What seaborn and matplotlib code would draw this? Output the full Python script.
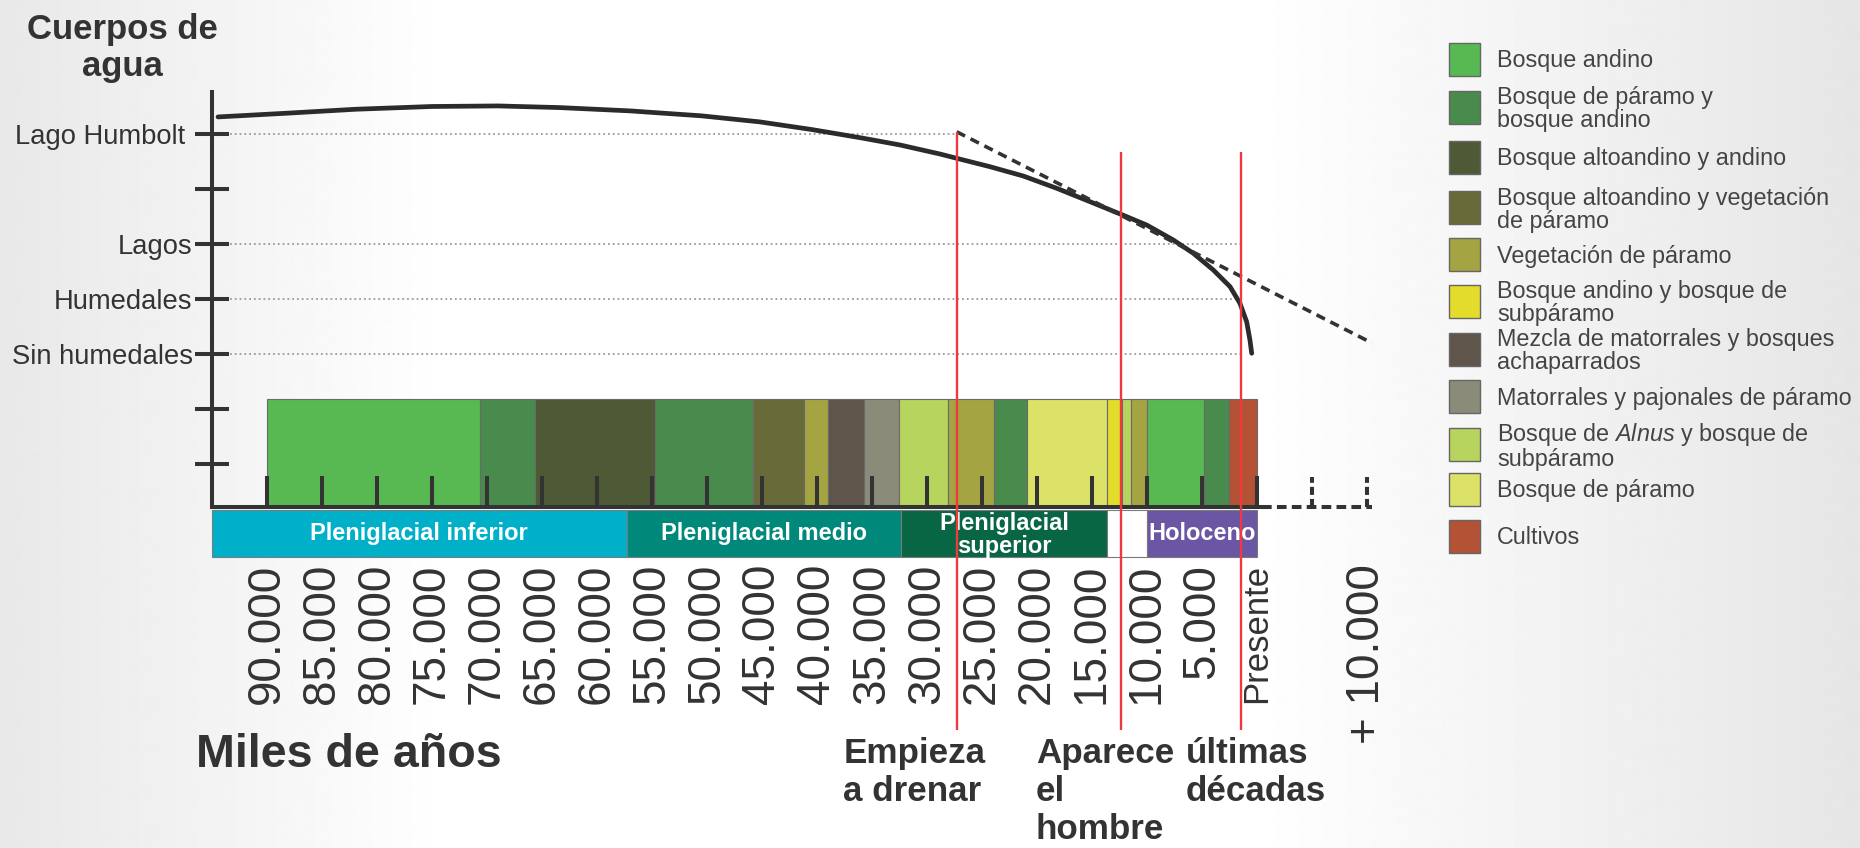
import numpy as np
import matplotlib
matplotlib.use("Agg")
import matplotlib.pyplot as plt
from matplotlib.patches import Rectangle
from matplotlib import font_manager
import seaborn as sns
import pandas as pd

# ---------------- data ----------------
level_ticks = [5, 4, 3, 2, 1, 0, -1]
level_labels = ["Lago Humbolt ", "", "Lagos", "Humedales", "Sin humedales", "", ""]

# water-body curve (age in thousand years BP, level)
curve_age = [94.45, 88.0, 81.9, 75.0, 69.0, 63.4, 57.0, 50.5, 45.2, 40.45, 36.0, 32.45,
             28.82, 27.30, 24.27, 21.25, 18.21, 15.18, 12.21, 10.03, 7.61, 5.79, 3.97,
             2.45, 1.55, 0.94, 0.64, 0.48]
curve_level = [5.31, 5.38, 5.45, 5.50, 5.51, 5.48, 5.42, 5.33, 5.22, 5.08, 4.93, 4.80,
               4.636, 4.558, 4.405, 4.236, 4.013, 3.769, 3.527, 3.345, 3.073, 2.831, 2.527,
               2.224, 1.922, 1.587, 1.255, 1.013]

# projected drainage (dashed)
proj_age = [27.3, -10.45]
proj_level = [5.04, 1.2]

veg_categories = [
    "Bosque andino",
    "Bosque de páramo y\nbosque andino",
    "Bosque altoandino y andino",
    "Bosque altoandino y vegetación\nde páramo",
    "Vegetación de páramo",
    "Bosque andino y bosque de\nsubpáramo",
    "Mezcla de matorrales y bosques\nachaparrados",
    "Matorrales y pajonales de páramo",
    "Bosque de $\\mathit{Alnus}$ y bosque de\nsubpáramo",
    "Bosque de páramo",
    "Cultivos",
]
veg_colors = ["#58B952", "#498B4D", "#4E5A36", "#696A39", "#A5A443", "#E4DC2C",
              "#5F554B", "#8A8B79", "#B6D45E", "#DBE267", "#B35234"]

seg_start = [90, 70.6, 65.6, 54.7, 45.8, 41.2, 39.0, 35.7, 32.5, 28.1, 23.9, 20.9,
             13.6, 12.3, 11.45, 10.0, 4.8, 2.5]
seg_end = [70.6, 65.6, 54.7, 45.8, 41.2, 39.0, 35.7, 32.5, 28.1, 23.9, 20.9, 13.6,
           12.3, 11.45, 10.0, 4.8, 2.5, 0.0]
seg_cat = [0, 1, 2, 1, 3, 4, 6, 7, 8, 4, 1, 9, 5, 8, 4, 0, 1, 10]

period_names = ["Pleniglacial inferior", "Pleniglacial medio", "Pleniglacial\nsuperior", "", "Holoceno"]
period_start = [95.0, 57.3, 32.4, 13.6, 10.0]
period_end = [57.3, 32.4, 13.6, 10.0, 0.0]
period_colors = ["#00B0C8", "#00897B", "#086645", "#FFFFFF", "#6B56A4"]

xtick_pos = [90, 85, 80, 75, 70, 65, 60, 55, 50, 45, 40, 35, 30, 25, 20, 15, 10, 5, 0, -10]
xtick_labels = ["90.000", "85.000", "80.000", "75.000", "70.000", "65.000", "60.000",
                "55.000", "50.000", "45.000", "40.000", "35.000", "30.000", "25.000",
                "20.000", "15.000", "10.000", "5.000", "Presente", "+ 10.000"]
future_ticks = [-5, -10]

event_age = [27.3, 12.36, 1.45]
event_top = [5.04, 4.67, 4.67]
event_labels = ["Empieza\na drenar", "Aparece\nel\nhombre", "últimas\ndécadas"]
event_text_x = [37.6, 20.1, 6.45]

# ---------------- style ----------------
sns.set_theme(style="white")
plt.rcParams["font.family"] = ["Liberation Sans", "DejaVu Sans"]
plt.rcParams["mathtext.fontset"] = "custom"
plt.rcParams["mathtext.rm"] = "Liberation Sans"
plt.rcParams["mathtext.it"] = "Liberation Sans:italic"

names = {f.name for f in font_manager.fontManager.ttflist}
NARROW = "Liberation Sans Narrow" in names
narrow_family = ["Liberation Sans Narrow", "DejaVu Sans"] if NARROW else ["Liberation Sans", "DejaVu Sans"]
nscale = 1.0 if NARROW else 0.84

W, H = 1860, 848
fig = plt.figure(figsize=(W / 100, H / 100), dpi=100)

def P(x, y):
    return (x / W, 1 - y / H)

# background gradient
xs = np.arange(W)
left = np.clip((450 - xs) / 450.0, 0, 1)
right = np.clip((xs - 1250) / 610.0, 0, 1)
g = 1 - 0.09 * left - 0.10 * right
img = np.tile(g, (20, 1))
bg = fig.add_axes([0, 0, 1, 1], zorder=-5)
bg.imshow(img, extent=[0, 1, 0, 1], aspect="auto", cmap="gray", vmin=0, vmax=1)
bg.axis("off")

ax = fig.add_axes([0, 0, 1, 1], zorder=1)
ax.patch.set_alpha(0)
ax.set_xlim(114.27, -54.82)
ax.set_ylim(-7.982, 7.436)
ax.set_axisbelow(False)

DARK = "#333333"
base_y = -1.78

for s in ["top", "right"]:
    ax.spines[s].set_visible(False)
ax.spines["left"].set_position(("data", 95.0))
ax.spines["left"].set_bounds(base_y, 5.76)
ax.spines["bottom"].set_position(("data", base_y))
ax.spines["bottom"].set_bounds(95.0, -0.45)
for s in ["left", "bottom"]:
    ax.spines[s].set_linewidth(2.9)
    ax.spines[s].set_color(DARK)
    ax.spines[s].set_capstyle("projecting")

ax.set_yticks(level_ticks, labels=level_labels)
ax.tick_params(axis="y", direction="inout", length=23.8, width=2.9, color=DARK,
               labelsize=19.7, labelcolor=DARK, pad=2, left=True)
ax.set_xticks(xtick_pos, labels=xtick_labels)
ax.tick_params(axis="x", direction="in", length=22.3, width=2.9, color=DARK,
               labelsize=33, labelcolor=DARK, pad=41, labelrotation=90, bottom=True)
for lab in ax.get_xticklabels():
    if lab.get_text() == "Presente":
        lab.set_fontsize(25)
ax.xaxis.get_major_ticks()[-1].tick1line.set_visible(False)

# dotted reference lines
ax.hlines(5, 93.4, 27.3, colors="#9a9a9a", linestyles=":", lw=1.3, zorder=1.5)
ax.hlines([3, 2, 1], 93.4, [1.3, 1.8, 1.3], colors="#9a9a9a", linestyles=":", lw=1.3, zorder=1.5)

# vegetation bars
for s, e, c in zip(seg_start, seg_end, seg_cat):
    ax.bar(x=e, height=1.96, width=s - e, bottom=base_y, align="edge", color=veg_colors[c],
           edgecolor="#6a6a6a", linewidth=0.8, zorder=1)

# period bars
for name, s, e, col in zip(period_names, period_start, period_end, period_colors):
    bars = ax.bar(x=e, height=0.85, width=s - e, bottom=-2.69, align="edge", color=col,
                  edgecolor="#7a7a7a", linewidth=0.8, zorder=1)
    if name:
        if "\n" in name:
            t = ax.text((s + e) / 2, -1.87, name, ha="center", va="top", color="white",
                        fontsize=17, fontweight="bold", linespacing=1.0, zorder=2)
            t.set_clip_path(bars[0])
        else:
            ax.text((s + e) / 2, -2.27, name, ha="center", va="center", color="white",
                    fontsize=17, fontweight="bold", zorder=2)

# future axis (dashed)
ax.plot([-0.45, -10.45], [base_y, base_y], color=DARK, lw=2.9, ls=(0, (2.4, 1.3)),
        solid_capstyle="butt", dash_capstyle="butt", zorder=3)
ax.vlines(future_ticks, base_y, -1.24, colors=DARK, lw=2.9, linestyles=(0, (2.0, 1.0)), zorder=3)

# curve and projection
df_curve = pd.DataFrame({"age": curve_age, "level": curve_level})
sns.lineplot(data=df_curve, x="age", y="level", sort=False, ax=ax, color="#2b2b2b",
             linewidth=3.4, zorder=4, estimator=None)
df_proj = pd.DataFrame({"age": proj_age, "level": proj_level})
sns.lineplot(data=df_proj, x="age", y="level", sort=False, ax=ax, color=DARK,
             linewidth=2.6, linestyle=(0, (2.6, 1.7)), zorder=4, estimator=None)
ax.set_xlabel("")
ax.set_ylabel("")

# events
ax.vlines(event_age, -5.84, event_top, colors="#EE3A3F", lw=1.7, zorder=5)
for x, lab in zip(event_text_x, event_labels):
    ax.text(x, -5.97, lab, ha="left", va="top", fontsize=30 * nscale, fontweight="bold",
            family=narrow_family, color=DARK, linespacing=1.18)

# title texts
fig.text(*P(122, 48), "Cuerpos de\nagua", ha="center", va="center", fontsize=25,
         fontweight="bold", color=DARK, linespacing=1.18)
fig.text(*P(196, 755), "Miles de años", ha="left", va="center", fontsize=40 * nscale,
         fontweight="bold", family=narrow_family, color=DARK)

# legend (manual layout)
leg_centers = [59, 107, 157, 208, 254, 301, 349, 396, 444, 489, 536]
for lab, col, cy in zip(veg_categories, veg_colors, leg_centers):
    fig.add_artist(Rectangle(P(1449, cy + 16.5), 31 / W, 33 / H, transform=fig.transFigure,
                             facecolor=col, edgecolor="#666666", linewidth=1.0))
    fig.text(*P(1497, cy + 2), lab, ha="left", va="center", fontsize=16.8, color="#444444",
             linespacing=0.98)

fig.savefig("out.png", dpi=100)
